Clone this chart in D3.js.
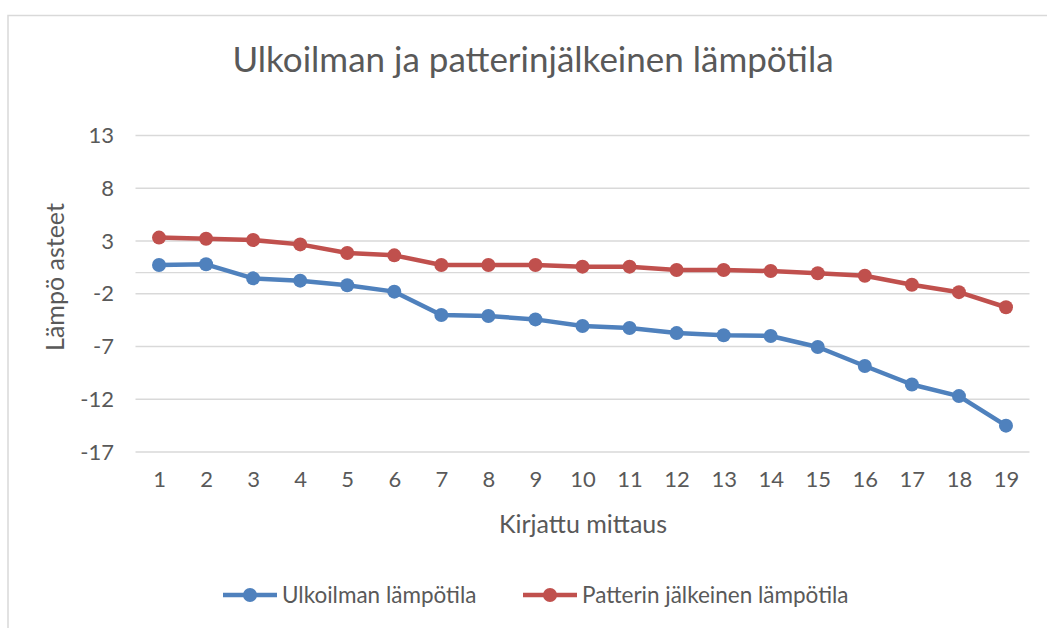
<!DOCTYPE html>
<html>
<head>
<meta charset="utf-8">
<script src="https://cdn.jsdelivr.net/npm/d3@7"></script>
<style>
  html, body { margin: 0; padding: 0; background: #fff; }
  svg { display: block; font-family: Lato, "Open Sans", sans-serif; }
</style>
</head>
<body>
<svg id="chart" width="1047" height="628"></svg>
<script>
const categories = ["1","2","3","4","5","6","7","8","9","10","11","12","13","14","15","16","17","18","19"];
const ulkoilma = [0.72, 0.79, -0.54, -0.76, -1.2, -1.8, -4.02, -4.11, -4.43, -5.06, -5.25, -5.73, -5.94, -6.0, -7.05, -8.85, -10.6, -11.7, -14.5];
const patteri = [3.32, 3.22, 3.09, 2.68, 1.86, 1.64, 0.72, 0.72, 0.72, 0.57, 0.57, 0.25, 0.25, 0.15, -0.05, -0.3, -1.15, -1.85, -3.28];
const yTicks = [-17, -12, -7, -2, 3, 8, 13];
const seriesNames = ["Ulkoilman lämpötila", "Patterin jälkeinen lämpötila"];
const colors = ["#4f81bd", "#c0504d"];
const titleText = "Ulkoilman ja patterinjälkeinen lämpötila";
const xTitle = "Kirjattu mittaus";
const yTitle = "Lämpö asteet";

const svg = d3.select("#chart");
const textColor = "#595959";
const gridColor = "#d9d9d9";

// chart area border
svg.append("rect").attr("x", 8).attr("y", 15.5).attr("width", 1100).attr("height", 700)
  .attr("fill", "#fff").attr("stroke", "#d9d9d9").attr("stroke-width", 1.5);

const x = d3.scalePoint().domain(categories).range([135.5, 1029.5]).padding(0.5);
const y = d3.scaleLinear().domain([-17, 13]).range([452, 135.5]);

// gridlines
svg.append("g").selectAll("line").data(yTicks).join("line")
  .attr("x1", 135.5).attr("x2", 1029.5)
  .attr("y1", d => y(d)).attr("y2", d => y(d))
  .attr("stroke", gridColor).attr("stroke-width", 1.3);
// category axis line at 0
svg.append("line").attr("x1", 135.5).attr("x2", 1029.5)
  .attr("y1", y(0)).attr("y2", y(0)).attr("stroke", gridColor).attr("stroke-width", 1.3);

// y axis labels
const yAxis = d3.axisLeft(y).tickValues(yTicks).tickSize(0).tickPadding(0).tickFormat(d => String(d));
const gy = svg.append("g").attr("transform", "translate(114,0)").call(yAxis);
gy.select(".domain").remove();
gy.selectAll("text").attr("fill", textColor).attr("font-size", 22).attr("font-family", "Lato, sans-serif");

// x axis labels
const xAxis = d3.axisBottom(x).tickSize(0).tickPadding(0);
const gx = svg.append("g").attr("transform", "translate(0,471)").call(xAxis);
gx.select(".domain").remove();
gx.selectAll("text").attr("fill", textColor).attr("font-size", 22).attr("font-family", "Lato, sans-serif");

// titles
svg.append("text").attr("x", 533).attr("y", 72).attr("text-anchor", "middle")
  .attr("font-size", 35).attr("fill", textColor).text(titleText);
svg.append("text").attr("x", 583).attr("y", 533).attr("text-anchor", "middle")
  .attr("font-size", 25).attr("fill", textColor).text(xTitle);
svg.append("text").attr("transform", "translate(64,277) rotate(-90)").attr("text-anchor", "middle")
  .attr("font-size", 25).attr("fill", textColor).text(yTitle);

// series
const allSeries = [ulkoilma, patteri];
const line = d3.line().x((d, i) => x(categories[i])).y(d => y(d));
allSeries.forEach((s, k) => {
  svg.append("path").datum(s).attr("d", line).attr("fill", "none")
    .attr("stroke", colors[k]).attr("stroke-width", 4.5).attr("stroke-linejoin", "round");
  svg.append("g").selectAll("circle").data(s).join("circle")
    .attr("cx", (d, i) => x(categories[i])).attr("cy", d => y(d)).attr("r", 7)
    .attr("fill", colors[k]);
});

// legend
const legendX = [223, 523];
const legendY = 595;
seriesNames.forEach((n, k) => {
  const g = svg.append("g");
  g.append("line").attr("x1", legendX[k]).attr("x2", legendX[k] + 54)
    .attr("y1", legendY).attr("y2", legendY).attr("stroke", colors[k]).attr("stroke-width", 4.5);
  g.append("circle").attr("cx", legendX[k] + 27).attr("cy", legendY).attr("r", 7).attr("fill", colors[k]);
  g.append("text").attr("x", legendX[k] + 59).attr("y", legendY + 7.5)
    .attr("font-size", 22.5).attr("fill", textColor).text(n);
});
</script>
</body>
</html>
